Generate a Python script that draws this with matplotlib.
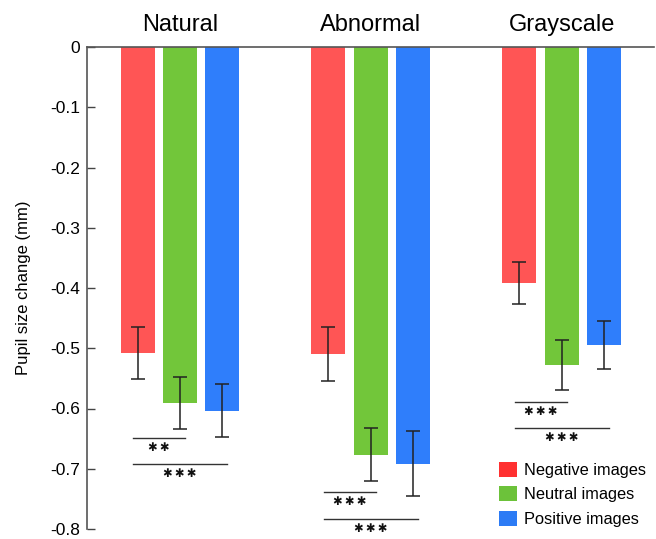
import numpy as np
import matplotlib
matplotlib.use("Agg")
import matplotlib.pyplot as plt
from matplotlib.patches import Patch

plt.rcParams["font.family"] = ["Liberation Sans", "DejaVu Sans"]
plt.rcParams["axes.unicode_minus"] = False

groups = ["Natural", "Abnormal", "Grayscale"]
conditions = ["Negative images", "Neutral images", "Positive images"]
colors = ["#FF5555", "#72C63A", "#2F7EFB"]
legend_colors = ["#FF3030", "#6CC23A", "#2C7BF5"]

# mean pupil change per group, per condition
negative = [-0.508, -0.510, -0.392]
neutral = [-0.591, -0.677, -0.528]
positive = [-0.604, -0.692, -0.494]
negative_err = [0.043, 0.045, 0.035]
neutral_err = [0.043, 0.044, 0.042]
positive_err = [0.044, 0.054, 0.040]

# significance brackets: (group, from condition, to condition, y, stars)
sig = [
    (0, 0, 1, -0.649, 2),
    (0, 0, 2, -0.692, 3),
    (1, 0, 1, -0.739, 3),
    (1, 0, 2, -0.783, 3),
    (2, 0, 1, -0.589, 3),
    (2, 0, 2, -0.633, 3),
]


def main():
    fig = plt.figure(figsize=(6.56, 5.39), dpi=100)
    ax = fig.add_axes([87 / 656, 10 / 539, 567 / 656, 482 / 539])

    x = np.arange(len(groups))
    width = 0.178
    offset = 0.2225
    series = [negative, neutral, positive]
    errs = [negative_err, neutral_err, positive_err]
    for i, (vals, err, col) in enumerate(zip(series, errs, colors)):
        ax.bar(x + (i - 1) * offset, vals, width, color=col, zorder=2)
        ax.errorbar(x + (i - 1) * offset, vals, yerr=err, fmt="none",
                    ecolor="#222222", elinewidth=1.1, capsize=5, capthick=1.1, zorder=3)

    for g, a, b, y, n in sig:
        x0 = g + (a - 1) * offset - 0.024
        x1 = g + (b - 1) * offset + 0.024
        ax.plot([x0, x1], [y, y], color="#333333", lw=1, zorder=3)
        ax.text((x0 + x1) / 2, y - 0.005, "\u2009".join("\u2731" * n), ha="center", va="top",
                fontsize=8.3, family="DejaVu Sans", color="#111111")

    for g, name in enumerate(groups):
        ax.text(g, 1.022, name, transform=ax.get_xaxis_transform(),
                ha="center", va="bottom", fontsize=17)

    ax.set_xlim(-0.487, 2.482)
    ax.set_ylim(-0.8, 0)
    ticks = np.round(np.arange(0, -0.81, -0.1), 1)
    ax.set_yticks(ticks)
    ax.set_yticklabels(["0"] + [f"{t:.1f}" for t in ticks[1:]], fontsize=12.5)
    ax.set_xticks([])
    ax.tick_params(axis="y", direction="in", length=6, width=1, color="#444444", pad=5)
    ax.spines["right"].set_visible(False)
    ax.spines["bottom"].set_visible(False)
    for s in ["left", "top"]:
        ax.spines[s].set_color("#555555")
        ax.spines[s].set_linewidth(1.2)
    ax.set_ylabel("Pupil size change (mm)", fontsize=12, labelpad=14)

    handles = [Patch(facecolor=c, edgecolor="none") for c in legend_colors]
    ax.legend(handles, conditions, loc="lower right", frameon=False, fontsize=11.8,
              handlelength=1.1, handleheight=1.05, handletextpad=0.43, labelspacing=0.5,
              borderaxespad=0.0, bbox_to_anchor=(0.997, -0.009))

    fig.savefig("out.png", dpi=100)


if __name__ == "__main__":
    main()
